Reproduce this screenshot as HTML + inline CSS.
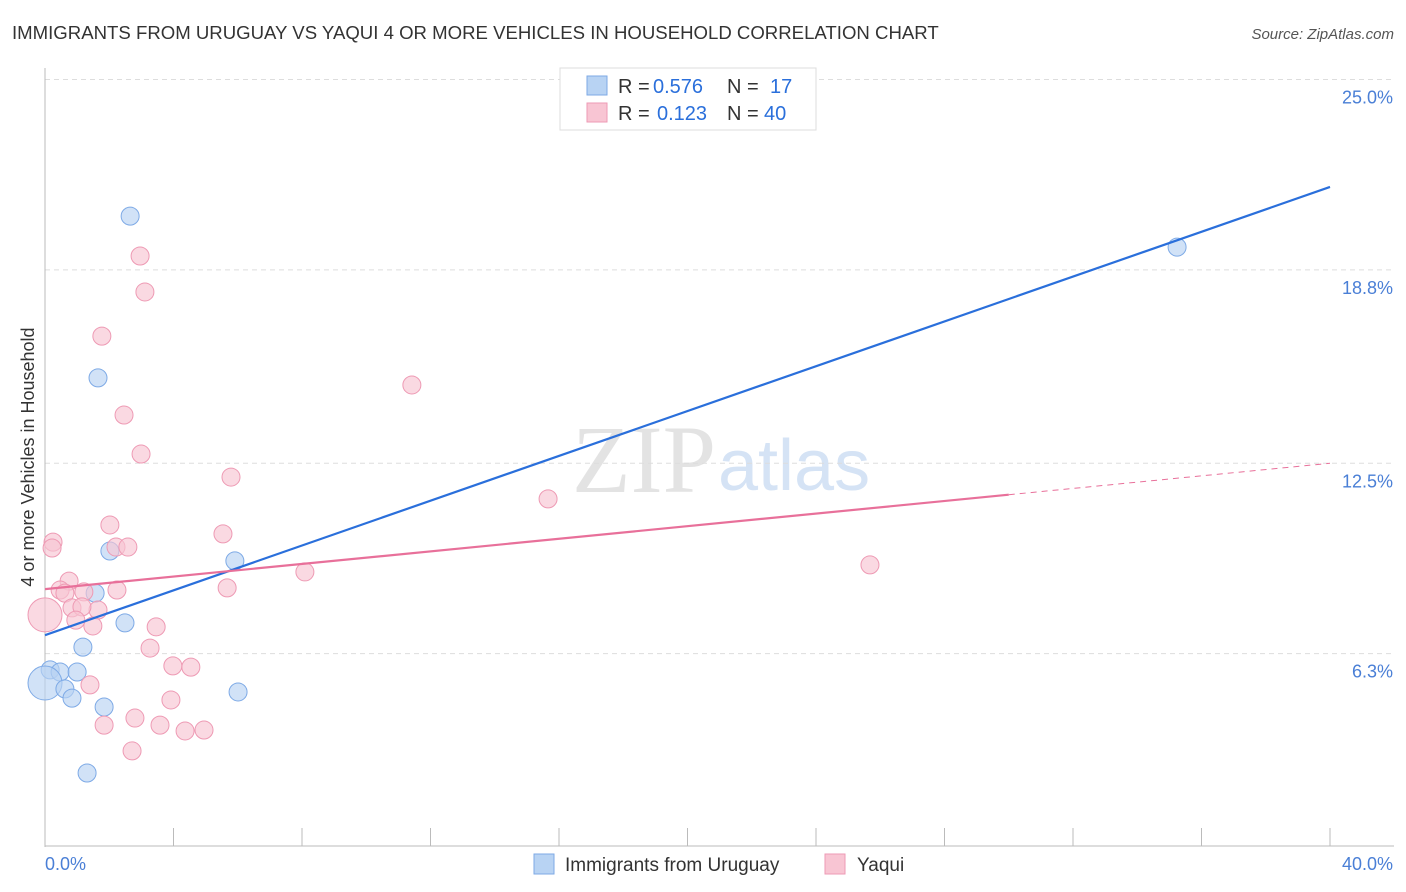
<!DOCTYPE html>
<html><head><meta charset="utf-8"><style>
body{margin:0;background:#fff;font-family:"Liberation Sans",sans-serif;}
svg{display:block}
</style></head><body>
<svg id="chart" width="1406" height="892"></svg>
<script>
const blueX=[2.65,1.65,2.02,5.91,1.56,2.49,1.18,0.16,0.47,1.0,0,0.62,0.84,1.84,6.01,1.31,35.24];
const blueY=[20.55,15.28,9.64,9.32,8.27,7.30,6.51,5.77,5.70,5.70,5.34,5.15,4.85,4.56,5.05,2.41,19.54];
const pinkX=[2.96,3.11,1.77,11.42,2.46,2.99,5.79,15.66,2.02,0.25,5.54,0.22,2.21,2.58,8.09,25.68,0.75,0.47,2.24,1.21,5.67,0.62,0,0.84,1.65,1.15,0.96,1.49,3.46,3.27,3.98,4.54,1.40,3.92,2.80,1.84,3.58,4.36,4.95,2.71];
const pinkY=[19.25,18.08,16.64,15.05,14.07,12.80,12.05,11.34,10.49,9.93,10.20,9.74,9.77,9.77,8.96,9.19,8.66,8.37,8.37,8.31,8.44,8.27,7.56,7.79,7.72,7.82,7.39,7.20,7.17,6.48,5.90,5.86,5.28,4.79,4.20,3.97,3.97,3.78,3.81,3.13];
const yTicks=[6.3,12.5,18.8,25.0];
const yTickLabels=["6.3%","12.5%","18.8%","25.0%"];
const blueLine=[6.9,21.5];
const pinkLine=[8.4,12.5];
const NS="http://www.w3.org/2000/svg";
const svg=document.getElementById('chart');
const X=v=>45+v*1285/40, Y=v=>847-v*30.7;
function el(t,a,txt){const e=document.createElementNS(NS,t);for(const k in a)e.setAttribute(k,a[k]);if(txt!==undefined)e.textContent=txt;svg.appendChild(e);return e;}
let e;
e=el('text',{x:12,y:39,'font-size':18.6,fill:'#333'},'IMMIGRANTS FROM URUGUAY VS YAQUI 4 OR MORE VEHICLES IN HOUSEHOLD CORRELATION CHART');

e=el('text',{x:1394,y:39,'font-size':15,fill:'#555','font-style':'italic','text-anchor':'end'},'Source: ZipAtlas.com');

e=el('text',{x:716,y:492,'font-size':96,fill:'#e3e3e3','font-family':'Liberation Serif,serif','text-anchor':'end'},'ZIP');

e=el('text',{x:718,y:490,'font-size':72,fill:'#d5e3f5'},'atlas');

yTicks.forEach((t,i)=>{
 const g=el('line',{x1:45,x2:1394,y1:Y(t),y2:Y(t),stroke:'#ddd','stroke-dasharray':'5,4'});
 
 const l=el('text',{x:1393,y:Y(t)+24,'font-size':18,fill:'#4a7fd6','text-anchor':'end'},yTickLabels[i]);
 
});
e=el('line',{x1:45,x2:45,y1:68,y2:847,stroke:'#bbb'});
e=el('line',{x1:45,x2:1394,y1:846,y2:846,stroke:'#bbb'});
for(let i=0;i<=10;i++){const t=el('line',{x1:X(i*4),x2:X(i*4),y1:828,y2:846,stroke:'#bbb'});}
e=el('text',{x:45,y:870,'font-size':18,fill:'#4a7fd6'},'0.0%');
e=el('text',{x:1393,y:870,'font-size':18,fill:'#4a7fd6','text-anchor':'end'},'40.0%');
e=el('text',{x:34,y:457,'font-size':18,fill:'#333','text-anchor':'middle',transform:'rotate(-90 34 457)'},'4 or more Vehicles in Household');

function dots(xs,ys,fill,stroke,name){xs.forEach((x,i)=>{const big=(x===0);const c=el('circle',{cx:X(x),cy:Y(ys[i]),r:big?17:9,fill:fill,stroke:stroke,'stroke-width':1,'fill-opacity':0.65});});}
dots(blueX,blueY,'#b8d3f3','#7eaae6','blue-point');
dots(pinkX,pinkY,'#f8c5d3','#ee9ab4','pink-point');
e=el('line',{x1:X(0),y1:Y(blueLine[0]),x2:X(40),y2:Y(blueLine[1]),stroke:'#2a6fdb','stroke-width':2.2});

const px=30;const pyMid=pinkLine[0]+(pinkLine[1]-pinkLine[0])*px/40;
e=el('line',{x1:X(0),y1:Y(pinkLine[0]),x2:X(px),y2:Y(pyMid),stroke:'#e8709a','stroke-width':2.2});

e=el('line',{x1:X(px),y1:Y(pyMid),x2:X(40),y2:Y(pinkLine[1]),stroke:'#e8709a','stroke-width':1,'stroke-dasharray':'6,5'});

e=el('rect',{x:560,y:68,width:256,height:62,fill:'#fff',stroke:'#ddd'});
e=el('rect',{x:587,y:76,width:20,height:19,fill:'#b8d3f3',stroke:'#7eaae6'});
e=el('rect',{x:587,y:103,width:20,height:19,fill:'#f8c5d3',stroke:'#ee9ab4'});
const lt=[[618,93,'R = ','#333'],[653,93,'0.576','#2a6fdb'],[727,93,'N = ','#333'],[770,93,'17','#2a6fdb'],[618,120,'R = ','#333'],[657,120,'0.123','#2a6fdb'],[727,120,'N = ','#333'],[764,120,'40','#2a6fdb']];
lt.forEach(a=>{const t=el('text',{x:a[0],y:a[1],'font-size':20,fill:a[3]},a[2]);});
e=el('rect',{x:534,y:854,width:20,height:20,fill:'#b8d3f3',stroke:'#7eaae6'});
e=el('text',{x:565,y:871,'font-size':19,fill:'#333'},'Immigrants from Uruguay');
e=el('rect',{x:825,y:854,width:20,height:20,fill:'#f8c5d3',stroke:'#ee9ab4'});
e=el('text',{x:857,y:871,'font-size':19,fill:'#333'},'Yaqui');
</script>
</body></html>
